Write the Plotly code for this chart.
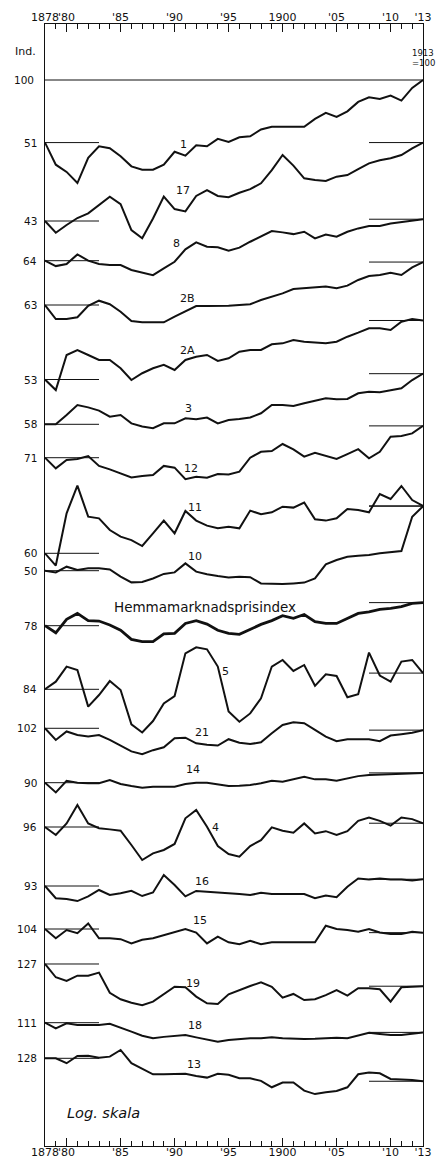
import numpy as np
import plotly.graph_objects as go

years = list(range(1878, 1914))

# Price indices, 1913 = 100
idx_1 = [51, 40.2, 37.2, 33.0, 43.3, 49.0, 48.0, 44.0, 39.5, 38.1, 38.1, 40.2, 46.2, 44.3, 49.6, 49.0, 53.1, 51.4,
         54.0, 54.6, 58.7, 60.4, 60.4, 60.4, 60.4, 65.8, 70.2, 67.2, 71.4, 79.0, 83.0, 81.6, 84.6, 80.1, 91.8, 100]
idx_17 = [43, 37.9, 41.2, 44.4, 46.7, 51.1, 55.9, 51.6, 39.0, 35.7, 44.2, 55.9, 48.9, 47.7, 56.3, 60.0, 56.3, 55.5,
          58.3, 60.6, 64.5, 74.4, 87.5, 78.0, 68.1, 66.9, 66.1, 69.3, 70.5, 75.2, 80.0, 82.6, 84.4, 87.5, 94.0, 100]
idx_8 = [64, 60.4, 61.8, 68.5, 64.0, 61.8, 61.1, 61.1, 57.9, 56.2, 54.8, 58.9, 63.3, 72.3, 77.9, 74.4, 73.9, 71.3,
         73.7, 78.5, 82.9, 88.1, 86.8, 85.2, 87.4, 81.4, 84.9, 82.9, 87.4, 90.6, 93.0, 93.0, 95.6, 97.0, 98.4, 100]
idx_2b = [63, 54.2, 54.2, 55.2, 62.5, 66.0, 63.5, 58.6, 53.0, 52.3, 52.3, 52.3, 55.6, 58.6, 62.3, 62.3, 62.3, 62.5,
          63.0, 63.5, 66.5, 68.9, 71.4, 74.8, 75.4, 76.2, 76.8, 75.4, 77.6, 82.5, 86.1, 87.0, 89.1, 87.0, 94.5, 100]
idx_2a = [53, 47.3, 69.0, 72.8, 69.0, 65.4, 65.4, 59.8, 52.7, 56.7, 59.8, 62.0, 58.7, 65.4, 67.7, 69.0, 64.7, 66.6,
          71.5, 72.8, 72.8, 77.4, 78.2, 81.0, 79.6, 79.1, 78.2, 79.6, 84.0, 87.7, 92.0, 92.0, 90.3, 98.7, 101.6, 100]
idx_3 = [58, 58.0, 64.1, 71.4, 69.6, 67.2, 63.0, 64.1, 58.6, 56.6, 55.6, 58.6, 58.6, 61.9, 61.2, 62.4, 58.6, 60.7,
         61.4, 62.4, 65.3, 71.4, 71.4, 70.6, 72.7, 74.8, 76.7, 75.9, 76.2, 81.0, 82.4, 81.8, 83.9, 85.4, 93.4, 100]
idx_12 = [71, 63.3, 69.3, 70.0, 72.3, 65.0, 62.6, 60.0, 57.4, 58.3, 58.9, 65.0, 63.8, 56.4, 57.9, 57.2, 59.6, 59.3,
          61.1, 71.0, 75.7, 76.3, 82.3, 77.6, 71.8, 74.9, 72.3, 70.0, 73.8, 77.8, 70.5, 75.7, 89.0, 89.7, 92.2, 100]
idx_11 = [60, 52.6, 92.3, 124.3, 89.0, 87.4, 77.1, 71.8, 69.2, 64.9, 74.4, 85.3, 74.4, 94.6, 85.3, 80.8, 78.5, 79.9,
          78.5, 95.0, 91.3, 93.3, 99.1, 98.1, 103.6, 86.5, 85.3, 87.4, 96.7, 95.6, 93.3, 113.6, 107.6, 123.8, 106.4, 100]
idx_10 = [50, 49.1, 52.2, 50.4, 51.3, 51.3, 50.7, 46.9, 44.1, 44.3, 46.0, 48.3, 49.1, 54.1, 49.5, 48.1, 47.2, 46.5,
          46.9, 46.6, 43.6, 43.3, 43.3, 43.6, 44.0, 46.0, 53.5, 56.1, 58.1, 58.8, 59.2, 60.3, 60.9, 61.8, 89.4, 100]
idx_home = [78, 72.3, 83.5, 89.0, 82.3, 82.0, 78.6, 74.3, 67.3, 65.7, 65.7, 71.4, 71.8, 79.9, 82.4, 79.4, 74.3, 71.8,
            71.1, 74.9, 79.1, 82.4, 86.9, 84.4, 88.0, 81.4, 79.9, 79.9, 84.4, 89.0, 90.6, 93.0, 94.0, 95.7, 99.1, 100]
idx_5 = [84, 91.2, 107.3, 103.4, 69.7, 79.0, 91.8, 83.4, 57.6, 52.8, 59.7, 72.2, 78.1, 123.7, 132.0, 129.2, 107.3, 66.1,
         59.3, 64.8, 76.3, 107.3, 115.2, 102.3, 109.1, 87.2, 98.7, 96.9, 77.1, 79.6, 124.7, 97.4, 91.2, 113.2, 115.2, 100]
idx_21 = [102, 90.0, 98.6, 94.9, 93.3, 94.9, 90.0, 84.7, 79.6, 77.1, 80.6, 83.1, 91.6, 92.2, 86.8, 85.4, 84.7, 90.7,
          87.4, 86.1, 87.7, 96.8, 105.7, 108.8, 107.7, 100.2, 93.3, 88.8, 90.7, 90.7, 90.7, 88.8, 94.3, 95.7, 97.3, 100]
idx_14 = [90, 81.1, 91.9, 90.0, 89.4, 89.4, 92.6, 88.7, 86.8, 85.3, 86.2, 86.2, 86.2, 88.7, 90.0, 90.0, 88.7, 86.8,
          87.1, 87.8, 89.4, 91.9, 91.0, 93.3, 95.9, 93.3, 93.3, 91.9, 94.2, 96.6, 97.7, 98.2, 98.6, 99.3, 99.3, 100]
idx_4 = [96, 88.1, 99.8, 121.6, 99.8, 94.7, 93.6, 92.2, 79.1, 67.3, 72.3, 75.0, 80.0, 105.4, 115.3, 96.3, 78.2, 71.8,
         69.8, 78.2, 83.4, 95.7, 92.2, 90.2, 99.8, 89.6, 91.8, 88.1, 91.8, 102.6, 106.3, 102.6, 97.4, 106.3, 104.5, 100]
idx_16 = [93, 81.5, 80.9, 79.1, 83.2, 89.1, 84.4, 86.0, 88.4, 83.5, 86.7, 104.7, 94.0, 83.2, 88.2, 87.6, 86.7, 86.0,
          85.3, 84.4, 86.4, 85.3, 85.3, 85.3, 85.3, 81.5, 83.9, 82.4, 92.3, 100.9, 99.7, 100.9, 99.7, 99.7, 98.8, 100]
idx_15 = [104, 94.1, 102.9, 99.4, 110.4, 94.1, 94.1, 93.2, 89.1, 92.6, 94.1, 97.5, 101.0, 104.0, 100.1, 89.1, 95.7, 90.1,
          88.2, 91.7, 88.2, 90.1, 90.1, 90.1, 90.1, 90.1, 107.7, 104.0, 102.9, 101.0, 104.0, 100.1, 98.6, 98.6, 101.0, 100]
idx_19 = [127, 110.1, 105.8, 112.0, 112.0, 115.7, 93.2, 86.9, 83.7, 81.6, 84.7, 91.7, 99.4, 98.8, 89.4, 83.2, 82.6, 91.7,
          96.0, 100.2, 104.3, 99.4, 88.4, 92.0, 86.2, 86.9, 90.9, 96.0, 90.3, 97.8, 97.8, 96.7, 84.7, 98.8, 99.4, 100]
idx_18 = [111, 104.5, 110.2, 108.3, 108.3, 108.3, 109.6, 105.4, 100.8, 96.4, 93.8, 95.3, 96.4, 97.3, 94.8, 92.2, 90.4, 92.2,
          93.1, 93.8, 93.8, 94.8, 93.8, 93.1, 93.1, 93.4, 93.8, 94.5, 93.8, 96.7, 99.7, 98.4, 97.3, 97.3, 98.4, 100]
idx_13 = [128, 128.0, 121.4, 131.2, 131.7, 128.9, 130.3, 140.0, 121.4, 114.3, 107.8, 107.8, 107.8, 108.3, 105.8, 104.0,
          108.3, 107.2, 103.2, 103.2, 100.4, 93.7, 98.6, 98.6, 90.4, 87.1, 88.8, 90.0, 93.7, 107.8, 110.0, 108.9, 102.5,
          102.2, 101.4, 100]

tick_years = [1878, 1880, 1885, 1890, 1895, 1900, 1905, 1910, 1913]
tick_text = ["1878", "'80", "'85", "'90", "'95", "1900", "'05", "'10", "'13"]

# Layout geometry (page pixels) and the stacking of the curves on one log scale
W, H = 440, 1169
M_L, M_R, M_T, M_B = 45, 17, 24, 23
Y_RANGE = [-2.9813, 2.2617]          # log10 range of the shared axis (214 px per decade)

# (label, series, depth of its 1878 level below the top 100-line in decades, label position px, line width)
curves = [
    ("1", idx_1, np.log10(100 / 51), (183, 145), 2.0),
    ("17", idx_17, 0.6589, (183, 190), 2.0),
    ("8", idx_8, 0.8444, (176, 243), 2.0),
    ("2B", idx_2b, 1.0514, (187, 298), 2.0),
    ("2A", idx_2a, 1.3995, (187, 350), 2.0),
    ("3", idx_3, 1.6089, (188, 408), 2.0),
    ("12", idx_12, 1.7650, (191, 468), 2.0),
    ("11", idx_11, 2.2117, (195, 507), 2.0),
    ("10", idx_10, 2.2930, (195, 556), 2.0),
    ("Hemmamarknadsprisindex", idx_home, 2.5500, (205, 607), 2.8),
    ("5", idx_5, 2.8472, (225, 671), 2.0),
    ("21", idx_21, 3.0294, (202, 733), 2.0),
    ("14", idx_14, 3.2836, (193, 770), 2.0),
    ("4", idx_4, 3.4907, (215, 827), 2.0),
    ("16", idx_16, 3.7664, (202, 882), 2.0),
    ("15", idx_15, 3.9673, (200, 920), 2.0),
    ("19", idx_19, 4.1308, (193, 983), 2.0),
    ("18", idx_18, 4.4051, (195, 1025), 2.0),
    ("13", idx_13, 4.5715, (194, 1064), 2.0),
]

INK = "#111111"
FONT = "DejaVu Sans"


def paper(px, py):
    return (px - M_L) / (W - M_L - M_R), (H - M_B - py) / (H - M_T - M_B)


def placed(values, depth):
    base = values[0]
    return [100.0 * v / base * 10 ** (-depth) for v in values]


fig = go.Figure()
annotations = []

# full-width 100 line at the top
fig.add_trace(go.Scatter(x=[1878, 1913], y=[100, 100], mode="lines",
                         line=dict(color=INK, width=1.2), hoverinfo="skip", showlegend=False))
annotations.append(dict(x=1878, y=2, xref="x", yref="y", text="100", showarrow=False,
                        xanchor="right", yanchor="middle", xshift=-9, font=dict(size=10.5)))

for i, (name, vals, depth, (lx, ly), lw) in enumerate(curves):
    ys = placed(vals, depth)
    start = ys[0]
    end = ys[-1]
    # reference levels: 1878 level on the left, 1913 = 100 on the right
    fig.add_trace(go.Scatter(x=[1878, 1883], y=[start, start], mode="lines",
                             line=dict(color=INK, width=1.0), hoverinfo="skip", showlegend=False))
    if i > 0:
        fig.add_trace(go.Scatter(x=[1908, 1913], y=[end, end], mode="lines",
                                 line=dict(color=INK, width=1.0), hoverinfo="skip", showlegend=False))
    fig.add_trace(go.Scatter(x=years, y=ys, mode="lines", name=name,
                             line=dict(color=INK, width=lw), showlegend=False))
    annotations.append(dict(x=1878, y=float(np.log10(start)), xref="x", yref="y",
                            text=str(vals[0]), showarrow=False, xanchor="right", yanchor="middle",
                            xshift=-6, font=dict(size=10.5)))
    px_, py_ = paper(lx, ly)
    size = 13.5 if len(name) > 3 else 11
    annotations.append(dict(x=px_, y=py_, xref="paper", yref="paper", text=name, showarrow=False,
                            xanchor="center", yanchor="middle", font=dict(size=size)))

# invisible trace so the top year axis is drawn
fig.add_trace(go.Scatter(x=[1878], y=[1], xaxis="x2", mode="markers", opacity=0,
                         hoverinfo="skip", showlegend=False))

for txt, (px_, py_), sz, style in [("Ind.", (25, 52), 11, "normal"),
                                    ("1913", (423, 53), 8.5, "normal"),
                                    ("=100", (423, 63), 8.5, "normal"),
                                    ("Log. skala", (103, 1113), 14.5, "italic")]:
    ax, ay = paper(px_, py_)
    annotations.append(dict(x=ax, y=ay, xref="paper", yref="paper", text=txt, showarrow=False,
                            xanchor="center", yanchor="middle", font=dict(size=sz, style=style)))

year_axis = dict(range=[1878, 1913], tickmode="array", tickvals=tick_years, ticktext=tick_text,
                 ticks="inside", ticklen=8, tickwidth=1, tickcolor=INK, tickangle=0,
                 minor=dict(ticks="inside", ticklen=5, tickwidth=1, tickcolor=INK, dtick=1, tick0=1878),
                 showline=True, linecolor=INK, linewidth=1.2, showgrid=False, zeroline=False,
                 tickfont=dict(size=11, color=INK), fixedrange=True, automargin=False)

fig.update_layout(
    width=W, height=H,
    margin=dict(l=M_L, r=M_R, t=M_T, b=M_B, pad=0, autoexpand=False),
    paper_bgcolor="white", plot_bgcolor="white",
    font=dict(family=FONT, color=INK),
    xaxis=dict(**year_axis, side="bottom", mirror=False, ticklabelstandoff=-4),
    xaxis2=dict(**year_axis, side="top", overlaying="x", anchor="y", ticklabelstandoff=-2),
    yaxis=dict(type="log", range=Y_RANGE, showticklabels=False, ticks="", showgrid=False,
               zeroline=False, showline=True, mirror=True, linecolor=INK, linewidth=1.2,
               fixedrange=True, automargin=False),
    annotations=annotations,
)

fig.write_html("out.html")
